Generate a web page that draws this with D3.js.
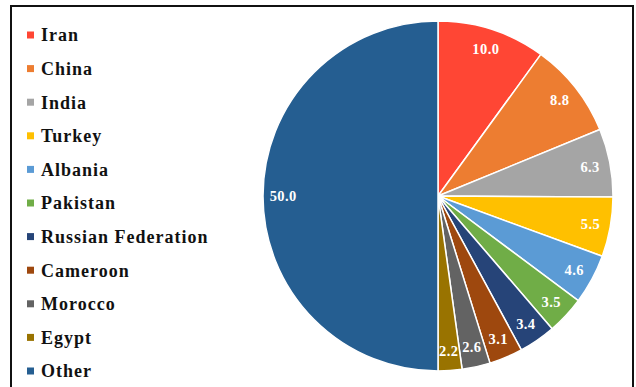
<!DOCTYPE html>
<html>
<head>
<meta charset="utf-8">
<script src="https://cdn.jsdelivr.net/npm/d3@7"></script>
<style>
  html, body { margin: 0; padding: 0; background: #fff; }
  svg { display: block; }
  text { font-family: "Liberation Serif", "Times New Roman", Times, serif; font-weight: bold; }
</style>
</head>
<body>
<svg id="chart" width="636" height="387"></svg>
<script>
// Share of total by country (%)
const countries = ["Iran", "China", "India", "Turkey", "Albania", "Pakistan",
  "Russian Federation", "Cameroon", "Morocco", "Egypt", "Other"];
const shares = [10.0, 8.8, 6.3, 5.5, 4.6, 3.5, 3.4, 3.1, 2.6, 2.2, 50.0];
const colors = ["#FF4634", "#ED7D31", "#A5A5A5", "#FFC000", "#5B9BD5", "#70AD47",
  "#264478", "#9E480E", "#636363", "#997300", "#255E91"];

const svg = d3.select("#chart");
const W = 636, H = 387;

// Outer frame (open at the bottom)
svg.append("path")
  .attr("d", `M11,${H + 2} L11,6 L633,6 L633,${H + 2}`)
  .attr("fill", "none")
  .attr("stroke", "#111")
  .attr("stroke-width", 2);

const data = countries.map((c, i) => ({ name: c, value: shares[i], color: colors[i] }));

const cx = 438, cy = 196, R = 175;
const pie = d3.pie().value(d => d.value).sort(null);
const arc = d3.arc().innerRadius(0).outerRadius(R);
const labelArc = d3.arc().innerRadius(R * 0.885).outerRadius(R * 0.885);

const g = svg.append("g").attr("transform", `translate(${cx},${cy})`);
const arcs = pie(data);

g.selectAll("path.slice")
  .data(arcs)
  .enter().append("path")
  .attr("class", "slice")
  .attr("d", arc)
  .attr("fill", d => d.data.color)
  .attr("stroke", "#fff")
  .attr("stroke-width", 1.5)
  .attr("stroke-linejoin", "round");

g.selectAll("text.val")
  .data(arcs)
  .enter().append("text")
  .attr("class", "val")
  .attr("transform", d => {
    const [x, y] = labelArc.centroid(d);
    return `translate(${x},${y})`;
  })
  .attr("text-anchor", "middle")
  .attr("dy", "0.35em")
  .attr("fill", "#fff")
  .attr("font-size", 14.5)
  .attr("letter-spacing", 0.4)
  .text(d => d.data.value.toFixed(1));

// Legend
const legend = svg.append("g");
const rowY = d3.scalePoint().domain(countries).range([35, 371]);
const items = legend.selectAll("g.item")
  .data(data)
  .enter().append("g")
  .attr("class", "item")
  .attr("transform", d => `translate(27,${rowY(d.name)})`);

items.append("rect")
  .attr("x", 0).attr("y", -3.5)
  .attr("width", 7).attr("height", 7)
  .attr("fill", d => d.color);

items.append("text")
  .attr("x", 14)
  .attr("dy", "0.35em")
  .attr("fill", "#111")
  .attr("font-size", 18)
  .attr("letter-spacing", 1)
  .text(d => d.name);
</script>
</body>
</html>
